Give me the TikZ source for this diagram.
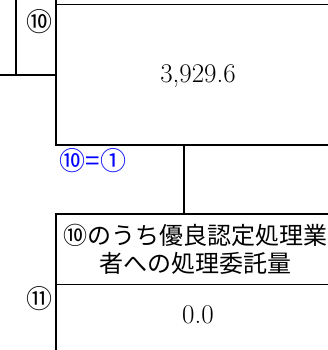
\documentclass[tikz,border=0pt]{standalone}
\usepackage{fontspec}
\newfontfamily\jpfont{Noto Sans CJK JP}
\usetikzlibrary{positioning}

\begin{document}
\begin{tikzpicture}[
  x=1pt, y=-1pt,
  heavy/.style={line width=2.6pt},
  light/.style={line width=1pt},
  numlabel/.style={font=\jpfont\fontsize{26}{26}\selectfont, inner sep=0pt},
  value/.style={font=\fontsize{27}{27}\selectfont, inner sep=0pt},
  caption/.style={font=\jpfont\fontsize{24}{28}\selectfont, align=center, inner sep=0pt}
]
\useasboundingbox (0,0) rectangle (327,350);

% upper box
\draw[heavy] (16,0) -- (16,75);
\draw[heavy] (0,75) -- (56,75);
\draw[heavy] (56,0) -- (56,145) -- (332,145);
\draw[light] (56,5) -- (332,5);
\node[numlabel] (n10) at (39,22) {⑩};
\node[value] (total) at (198,76) {3,929.6};
\node[numlabel, text=blue] (same) at (93,161) {⑩=①};

% link down to the lower box
\coordinate (upperfoot) at (184,145);
\coordinate (lowerhead) at (184,214);
\draw[heavy] (upperfoot) -- (lowerhead);

% lower box
\draw[heavy] (332,214) -- (56,214) -- (56,354);
\draw[light] (56,284) -- (332,284);
\node[caption] (title) at (195,249) {⑩のうち優良認定処理業\\者への処理委託量};
\node[value] (zero) at (198,315) {0.0};
\node[numlabel] (n11) at (39,299) {⑪};
\end{tikzpicture}
\end{document}
